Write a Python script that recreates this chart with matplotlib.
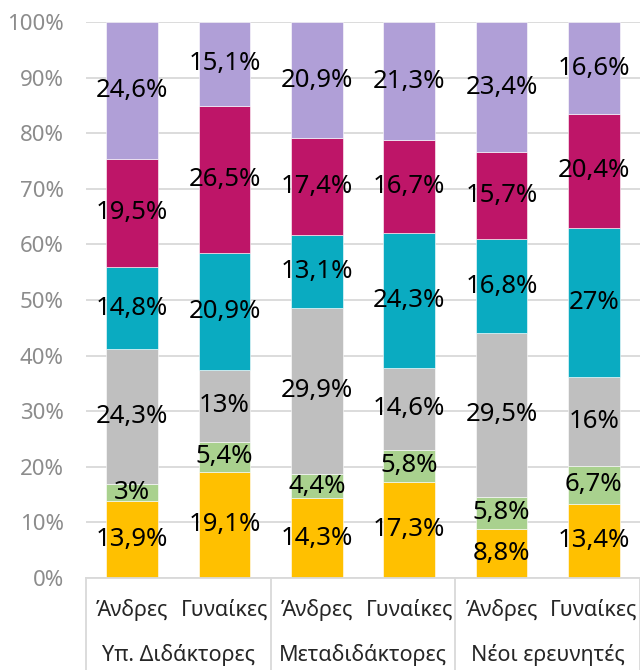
import matplotlib
matplotlib.use("Agg")
import matplotlib.pyplot as plt
import matplotlib.transforms as mtransforms
import numpy as np

plt.rcParams['font.family'] = ['Noto Sans', 'DejaVu Sans']

# Δεδομένα
ftyla = ["Άνδρες", "Γυναίκες", "Άνδρες", "Γυναίκες", "Άνδρες", "Γυναίκες"]
omades = ["Υπ. Διδάκτορες", "Μεταδιδάκτορες", "Νέοι ερευνητές"]

seira_1 = [13.9, 19.1, 14.3, 17.3, 8.8, 13.4]
seira_2 = [3.0, 5.4, 4.4, 5.8, 5.8, 6.7]
seira_3 = [24.3, 13.0, 29.9, 14.6, 29.5, 16.0]
seira_4 = [14.8, 20.9, 13.1, 24.3, 16.8, 27.0]
seira_5 = [19.5, 26.5, 17.4, 16.7, 15.7, 20.4]
seira_6 = [24.6, 15.1, 20.9, 21.3, 23.4, 16.6]

xromata = ["#FFC000", "#A9D18E", "#BFBFBF", "#0AABC1", "#BE1568", "#B09FD7"]

seires = np.array([seira_1, seira_2, seira_3, seira_4, seira_5, seira_6])
pososta = seires / seires.sum(axis=0) * 100  # 100% stacked

fig = plt.figure(figsize=(6.4, 6.7), dpi=100)
ax = fig.add_axes([86 / 640, 92 / 670, 554 / 640, 556 / 670])

x = np.arange(len(ftyla))
bottom = np.zeros(len(ftyla))
for i in range(len(seires)):
    ax.bar(x, pososta[i], 0.56, bottom=bottom, color=xromata[i],
           edgecolor="white", linewidth=0.4, zorder=2)
    for j in range(len(x)):
        timi = seires[i][j]
        keimeno = (f"{timi:.1f}".replace(".", ",") if timi % 1 else f"{int(timi)}") + "%"
        ax.text(x[j], bottom[j] + pososta[i][j] / 2, keimeno, ha="center", va="center",
                fontsize=18.5, color="black", zorder=3)
    bottom += pososta[i]

ax.set_xlim(-0.5, len(ftyla) - 0.5)
ax.set_ylim(0, 100)
ax.set_yticks(np.arange(0, 101, 10))
ax.set_yticklabels([f"{v}%" for v in range(0, 101, 10)], color="#8C8C8C", fontsize=16)
ax.tick_params(axis="y", length=0, pad=16)
ax.tick_params(axis="x", length=0)
ax.set_xticks([])
ax.grid(axis="y", color="#D9D9D9", linewidth=1.3, zorder=0)
for s in ["left", "right", "top"]:
    ax.spines[s].set_visible(False)
ax.spines["bottom"].set_color("#D9D9D9")
ax.spines["bottom"].set_linewidth(1.3)

# Ετικέτες άξονα x σε δύο επίπεδα
trans = mtransforms.blended_transform_factory(ax.transData, ax.transAxes)
px = 1 / 556
for j, f in enumerate(ftyla):
    ax.text(x[j], -32 * px, f, ha="center", va="center", fontsize=15.5,
            color="#262626", transform=trans)
for k, o in enumerate(omades):
    ax.text(2 * k + 0.5, -77 * px, o, ha="center", va="center", fontsize=15.5,
            color="#262626", transform=trans)
for xs in [-0.5, 1.5, 3.5, 5.5]:
    ax.plot([xs, xs], [0, -92 * px], color="#D9D9D9", linewidth=1.3,
            transform=trans, clip_on=False)

fig.savefig("out.png", dpi=100)
